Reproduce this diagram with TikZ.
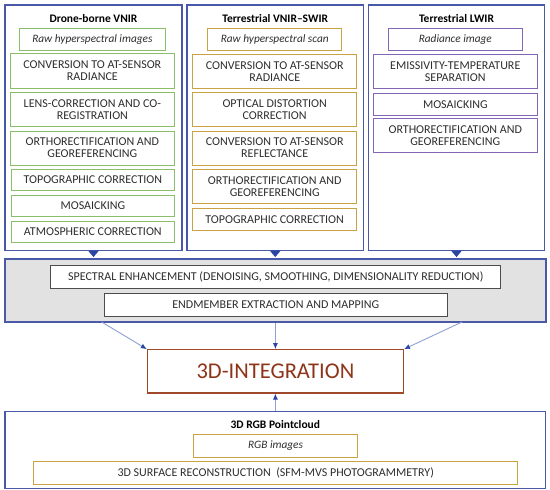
\documentclass[tikz,border=0pt]{standalone}
\usepackage{fontspec}
\setmainfont{Carlito}
\usetikzlibrary{arrows.meta,calc}
\definecolor{colblue}{HTML}{4A58A8}
\definecolor{grn}{HTML}{8CBE6A}
\definecolor{gold}{HTML}{C9A244}
\definecolor{purp}{HTML}{8464B4}
\definecolor{band}{HTML}{E2E2E2}
\definecolor{intbrd}{HTML}{A0482A}
\definecolor{inttxt}{HTML}{8E3418}
\definecolor{txt}{HTML}{2E2E2E}
\definecolor{arrline}{HTML}{8FA0D2}
\definecolor{arrhead}{HTML}{2B45A3}
\newcommand\bx[7]{\node[#6,minimum width={(#4-#2)*1pt},minimum height={(#5-#3)*1pt}] (#1) at ({(#2+#4)/2},{(#3+#5)/2}) {#7};}
\begin{document}
\begin{tikzpicture}[x=1pt,y=-1pt,
  colbox/.style={draw=colblue,line width=1.1pt,fill=white,inner sep=0pt},
  base/.style={inner sep=0pt,align=center,text=txt,font=\fontsize{12}{11.8}\selectfont,line width=0.9pt,fill=white},
  gbox/.style={base,draw=grn},
  ybox/.style={base,draw=gold},
  pbox/.style={base,draw=purp},
  kbox/.style={base,draw=black!70},
  ttl/.style={font=\bfseries\fontsize{11.5}{12}\selectfont,text=black,inner sep=0pt},
  itl/.style={font=\itshape\fontsize{11.3}{12}\selectfont},
  tri/.style={fill=arrhead},
  conn/.style={draw=arrline,line width=0.9pt,-{Latex[length=6pt,width=5pt,color=arrhead]}}]
\useasboundingbox (0,0) rectangle (550,490);
% columns
\bx{colL}{5}{5}{182}{250.5}{colbox}{}
\bx{colM}{187}{5}{363.5}{250.5}{colbox}{}
\bx{colR}{368.5}{5}{544.5}{250.5}{colbox}{}
% column titles
\node[ttl] (tL) at (93.5,19) {Drone-borne VNIR};
\node[ttl] (tM) at (275.2,19) {Terrestrial VNIR–SWIR};
\node[ttl] (tR) at (456.5,19) {Terrestrial LWIR};
% left column
\bx{rL}{19}{28.3}{165.7}{50}{gbox,itl}{Raw hyperspectral images}
\bx{l1}{10.7}{53.3}{174}{88.3}{gbox}{CONVERSION TO AT-SENSOR\\RADIANCE}
\bx{l2}{10.7}{92.7}{174}{126.7}{gbox}{LENS-CORRECTION AND CO-\\REGISTRATION}
\bx{l3}{10.7}{131}{174}{165}{gbox}{ORTHORECTIFICATION AND\\GEOREFERENCING}
\bx{l4}{11.7}{169.3}{174}{190.7}{gbox}{TOPOGRAPHIC CORRECTION}
\bx{l5}{11.7}{195}{174}{216.7}{gbox}{MOSAICKING}
\bx{l6}{11.7}{221}{174}{242.3}{gbox}{ATMOSPHERIC CORRECTION}
% middle column
\bx{rM}{207.7}{28.3}{341.7}{50}{ybox,itl}{Raw hyperspectral scan}
\bx{m1}{192.7}{54.3}{356.7}{88.3}{ybox}{CONVERSION TO AT-SENSOR\\RADIANCE}
\bx{m2}{192.7}{92.7}{356.7}{126.7}{ybox}{OPTICAL DISTORTION\\CORRECTION}
\bx{m3}{192.7}{131}{356.7}{165}{ybox}{CONVERSION TO AT-SENSOR\\REFLECTANCE}
\bx{m4}{192.7}{169.3}{356.7}{203.3}{ybox}{ORTHORECTIFICATION AND\\GEOREFERENCING}
\bx{m5}{192.7}{208.3}{356.7}{230}{ybox}{TOPOGRAPHIC CORRECTION}
% right column
\bx{rR}{388.3}{28.3}{522.3}{50}{pbox,itl}{Radiance image}
\bx{r1}{373.3}{54.3}{537.3}{88.3}{pbox}{EMISSIVITY-TEMPERATURE\\SEPARATION}
\bx{r2}{373.3}{93.3}{537.3}{115}{pbox}{MOSAICKING}
\bx{r3}{373.3}{118.3}{537.3}{152.7}{pbox}{ORTHORECTIFICATION AND\\GEOREFERENCING}
% band
\bx{bandbox}{5}{259}{546}{322}{colbox,fill=band}{}
\bx{spec}{50.7}{265}{500.8}{288}{kbox}{SPECTRAL ENHANCEMENT (DENOISING, SMOOTHING, DIMENSIONALITY REDUCTION)}
\bx{endm}{104.5}{293.4}{447}{316.3}{kbox}{ENDMEMBER EXTRACTION AND MAPPING}
% triangles
\foreach \c in {colL,colM,colR}{
  \fill[tri] ([xshift=-5.5pt,yshift=0.5pt]\c.south) -- ([xshift=5.5pt,yshift=0.5pt]\c.south) -- ([yshift=-6pt]\c.south) -- cycle;
}
% integration
\bx{integ}{147.4}{349.7}{403.4}{393}{draw=intbrd,line width=1.1pt,fill=white,inner sep=0pt,text=inttxt,font=\fontsize{22.5}{24}\selectfont}{3D-INTEGRATION}
% bottom
\bx{bot}{5}{411.6}{545.5}{488.5}{colbox}{}
\node[ttl] (tB) at (275.3,425) {3D RGB Pointcloud};
\bx{rgb}{193.8}{434.5}{357.3}{457.4}{ybox,itl}{RGB images}
\bx{surf}{33.8}{461.6}{517.7}{484.4}{ybox}{3D SURFACE RECONSTRUCTION\ \ (SFM-MVS PHOTOGRAMMETRY)}
% connectors
\coordinate (aL) at (101.7,322);
\coordinate (aR) at (462,322);
\draw[conn] (aL) -- (integ.north west);
\draw[conn] (bandbox.south -| integ.north) -- (integ.north);
\draw[conn] (aR) -- (integ.north east);
\draw[conn] (bot.north -| integ.south) -- (integ.south);
\end{tikzpicture}
\end{document}
